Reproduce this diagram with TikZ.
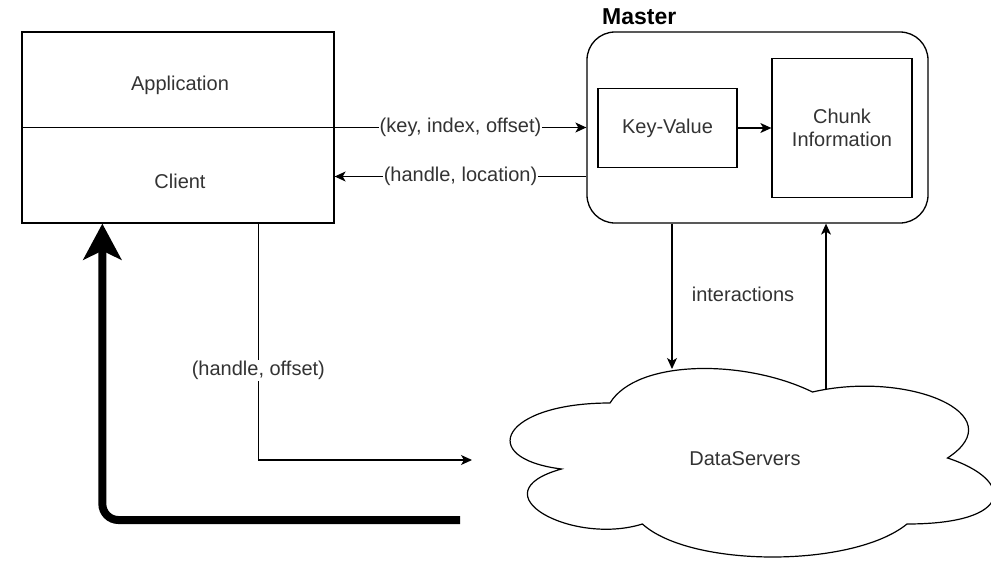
\documentclass[tikz,border=0pt]{standalone}
\usepackage{fontspec}
\setmainfont{Liberation Sans}
\usetikzlibrary{arrows.meta}
\definecolor{txtgray}{RGB}{51,51,51}
\begin{document}
\begin{tikzpicture}[x=1pt,y=-1pt,
	font=\fontsize{20}{23}\selectfont,
	box/.style={draw, line width=1.3pt, inner sep=0pt},
	lbl/.style={text=txtgray, inner sep=1pt},
	elbl/.style={lbl, fill=white},
	arr/.style={line width=1.2pt, -{Stealth[length=11pt,width=10pt,inset=3pt]}},
	bigarr/.style={line width=8pt, rounded corners=16pt, -{Stealth[length=36pt,width=38pt,inset=9pt]}}]
	\useasboundingbox (0,0) rectangle (991,562);
	% client side
	\node[box, minimum width=312pt, minimum height=191pt] (client) at (178,127.5) {};
	\node[lbl] (app) at (180,85) {Application};
	\node[lbl] (cli) at (180,181) {Client};
	\draw[line width=1.2pt] (client.west) -- (client.east);
	% master
	\node[box, rounded corners=28pt, minimum width=341pt, minimum height=191pt] (master) at (757.5,127.5) {};
	\node[font=\fontsize{23}{27}\selectfont\bfseries, anchor=west, inner sep=0pt] (mname) at (602,17) {Master};
	\node[box, minimum width=139pt, minimum height=79pt] (kv) at (667.5,128) {};
	\node[lbl] at (kv) {Key-Value};
	\node[box, minimum width=140pt, minimum height=139pt] (chunk) at (842,128) {};
	\node[lbl, align=center] at (chunk) {Chunk\\Information};
	\draw[arr] (kv.east) -- (chunk.west);
	\draw[arr] (client.east) -- node[elbl] {(key, index, offset)} (master.west);
	\draw[arr] ([yshift=-49pt]master.west) -- node[elbl] {(handle, location)} ([yshift=-49pt]client.east);
	% data servers
	\draw[line width=1.2pt] (610,403) .. controls (502,403) and (475,458) .. (561.4,469)
		.. controls (475,493.2) and (572.2,546) .. (642.4,524)
		.. controls (691,568) and (853,568) .. (907,524)
		.. controls (1015,524) and (1015,480) .. (947.5,458)
		.. controls (1015,414) and (907,370) .. (812.5,392)
		.. controls (745,359) and (637,359) .. cycle;
	\node[lbl] (ds) at (745,459) {DataServers};
	\coordinate (dstop) at (672,369);
	\coordinate (dsnotch) at (826,390);
	\draw[arr] ([xshift=-85.5pt]master.south) -- (dstop);
	\draw[arr] (dsnotch) -- ([xshift=68.5pt]master.south);
	\node[lbl] (inter) at (743,294) {interactions};
	% client to servers
	\coordinate (hoend) at (472,460);
	\draw[arr] ([xshift=237pt]client.south west) |- node[elbl, pos=0.31] {(handle, offset)} (hoend);
	\coordinate (ret) at (460,520);
	\draw[bigarr] (ret) -| ([xshift=81pt]client.south west);
\end{tikzpicture}
\end{document}
